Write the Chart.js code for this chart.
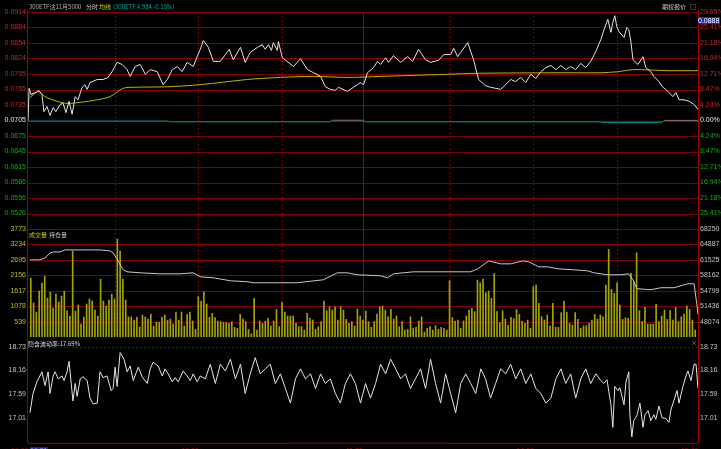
<!DOCTYPE html>
<html lang="zh">
<head>
<meta charset="UTF-8">
<meta name="viewport" content="width=device-width, initial-scale=1.0">
<title>300ETF沽11月5000 分时</title>
<script src="https://cdn.jsdelivr.net/npm/chart.js"></script>
<style>
  html, body { margin: 0; padding: 0; background: #000; overflow: hidden; }
  #board { position: relative; width: 721px; height: 449px; background: #000;
           font-family: "Noto Sans CJK SC", "Liberation Sans", sans-serif; }
  #board canvas { position: absolute; left: 0; top: 0; }
  .t { position: absolute; font-size: 6px; line-height: 7px; white-space: nowrap; z-index: 5; }
  .n { font-family: "Liberation Sans", sans-serif; font-size: 7px; }
</style>
</head>
<body>
<div id="board">
  <canvas id="priceChart" width="721" height="449"></canvas>
  <canvas id="volChart" width="721" height="449"></canvas>
  <canvas id="ivChart" width="721" height="449"></canvas>

  <span class="t" style="left:29px;top:3px;color:#b4b4b4">300ETF沽11月5000</span>
  <span class="t" style="left:86px;top:3px;color:#d0d0d0">分时</span>
  <span class="t" style="left:99px;top:3px;color:#d8d800">均线</span>
  <span class="t" style="left:113px;top:3px;color:#00a8a8">(300ETF 4.984 -0.10%)</span>
  <span class="t" style="left:662px;top:3px;color:#c0c0c0">期权报价</span>
  <span class="t" style="left:690px;top:3px;color:#c0c0c0">□</span>
  <span class="t n" style="left:698px;top:17px;width:22px;background:#2a2aa8;color:#fff">0.0888</span>

  <span class="t" style="left:29px;top:231px;color:#d0d000">成交量</span>
  <span class="t" style="left:49px;top:231px;color:#c8c8c8">持仓量</span>

  <span class="t" style="left:28px;top:340px;color:#d8d8d8">隐含波动率:17.69%</span>
  <span class="t" style="left:691px;top:339px;color:#a0a0a0">×</span>
  <div id="timeLabels"></div>
</div>

<script>
    // ---- data (x = minutes since 09:30, trading minutes) ----
    const basePrice = 0.0705;
    const pctStep = 29.65 / 7;

    const priceLabels = ['0.0914','0.0884','0.0854','0.0824','0.0795','0.0765','0.0735',
                         '0.0705','0.0675','0.0645','0.0615','0.0586','0.0556','0.0526'];
    const pctLabels = ['29.65%','25.41%','21.18%','16.94%','12.71%','8.47%','4.24%',
                       '0.00%','4.24%','8.47%','12.71%','16.94%','21.18%','25.41%'];
    const volLabels = ['3773','3234','2695','2156','1617','1078','539'];
    const oiLabels = ['68250','64887','61525','58162','54799','51436','48074'];
    const ivLabels = ['18.73','18.16','17.59','17.01'];
    const timeLabels = ['09:30','10:30','11:30','14:00','15:00'];
    const timeLabelMinutes = [0, 61, 120, 181, 240];
    const gridMinutes = [31, 61, 91, 120, 151, 181, 211];

    const pricePoints = [[0,0.0705],[0.4,0.0767],[1.1,0.0755],[1.8,0.0757],[2.9,0.0759],[3.9,0.0763],
        [5.0,0.0755],[5.7,0.0722],[6.8,0.0732],[7.9,0.0715],[9.0,0.0730],[10.0,0.0722],[11.5,0.0736],
        [12.6,0.0738],[13.6,0.0720],[14.7,0.0742],[15.8,0.0717],[16.9,0.0751],[17.9,0.0745],[19.4,0.0769],
        [20.4,0.0774],[21.2,0.0765],[22.2,0.0778],[24.8,0.0784],[26.9,0.0784],[28.7,0.0788],[30.1,0.0799],
        [31.9,0.0817],[33.7,0.0813],[35.5,0.0803],[36.6,0.0790],[38.4,0.0809],[40.2,0.0813],[42.0,0.0794],
        [43.8,0.0803],[46.3,0.0799],[48.4,0.0774],[49.9,0.0784],[51.7,0.0803],[53.5,0.0809],[55.2,0.0799],
        [57.0,0.0817],[59.2,0.0809],[60.6,0.0828],[61.7,0.0842],[62.8,0.0859],[64.6,0.0846],[66.4,0.0819],
        [68.9,0.0819],[70.7,0.0832],[72.1,0.0842],[73.5,0.0822],[76.1,0.0846],[77.8,0.0817],[79.6,0.0836],
        [82.2,0.0846],[83.9,0.0851],[85.0,0.0842],[86.1,0.0851],[87.2,0.0840],[87.9,0.0855],[89.3,0.0840],
        [89.7,0.0857],[91.1,0.0826],[95.1,0.0809],[97.6,0.0824],[100.1,0.0803],[102.3,0.0797],[104.8,0.0790],
        [106.5,0.0770],[108.3,0.0765],[110.1,0.0763],[111.2,0.0769],[114.4,0.0761],[116.6,0.0769],
        [119.1,0.0778],[120.2,0.0774],[121.6,0.0797],[123.8,0.0807],[125.2,0.0819],[126.3,0.0813],
        [128.1,0.0826],[129.1,0.0817],[130.9,0.0830],[133.5,0.0817],[136.0,0.0828],[137.8,0.0819],
        [139.9,0.0842],[142.4,0.0822],[144.2,0.0817],[147.1,0.0821],[148.9,0.0832],[151.4,0.0832],
        [152.5,0.0844],[153.9,0.0828],[157.5,0.0855],[159.6,0.0822],[161.4,0.0784],[163.9,0.0772],
        [165.7,0.0769],[169.3,0.0765],[171.1,0.0774],[172.9,0.0784],[174.7,0.0780],[176.5,0.0788],
        [178.3,0.0778],[180.1,0.0794],[181.9,0.0786],[183.7,0.0799],[185.5,0.0807],[187.3,0.0811],
        [189.1,0.0803],[190.9,0.0811],[192.6,0.0803],[194.4,0.0809],[196.2,0.0803],[198.0,0.0815],
        [199.8,0.0807],[201.6,0.0819],[203.4,0.0838],[205.2,0.0861],[206.6,0.0884],[207.7,0.0900],
        [208.8,0.0875],[209.5,0.0894],[210.2,0.0907],[210.9,0.0886],[211.7,0.0876],[213.5,0.0865],
        [214.5,0.0884],[215.2,0.0880],[216.0,0.0855],[216.7,0.0822],[218.5,0.0813],[220.3,0.0828],
        [221.3,0.0807],[223.1,0.0799],[224.2,0.0790],[226.0,0.0780],[227.4,0.0769],[228.5,0.0765],
        [231.0,0.0751],[232.1,0.0759],[233.2,0.0745],[235.0,0.0745],[236.8,0.0742],[238.6,0.0736],[240,0.0726]];

    const avgPoints = [[0.7,0.0749],[3.6,0.0761],[6.1,0.0751],[10.4,0.0742],[14.0,0.0738],[18.7,0.0740],
        [24.8,0.0745],[29.4,0.0751],[34.1,0.0767],[37.7,0.0769],[49.9,0.0770],[61.7,0.0774],[78.6,0.0784],
        [90.4,0.0788],[102.2,0.0790],[114.4,0.0788],[126.3,0.0790],[138.1,0.0792],[150.3,0.0794],
        [161.1,0.0796],[190.9,0.0797],[205.2,0.0797],[211.3,0.0799],[217.0,0.0803],[229.2,0.0801],[240,0.0801]];

    const etfPoints = [[0,0.0704],[50,0.0704],[51,0.07025],[108,0.07025],[109,0.07055],[120,0.07055],
        [121,0.07025],[205,0.07025],[206,0.0701],[227,0.0701],[228,0.07052],[240,0.07052]];

    const volumes = [2060,1190,870,1600,1880,2130,1360,1570,1010,1500,1220,1430,1600,910,730,3000,910,1120,
        450,700,1150,1330,1260,940,730,2020,1260,1080,1290,1500,1330,3420,3000,2020,1290,700,700,590,700,350,
        770,700,630,800,380,520,520,700,770,590,630,450,870,590,870,
        384,779,872,558,267,1407,1256,1582,1151,686,826,675,558,535,512,500,477,535,337,302,
        791,628,535,267,105,1349,244,558,477,558,651,384,558,965,360,1210,872,733,733,733,
        477,360,360,244,826,651,593,267,360,535,1256,919,1058,942,1058,593,1058,942,616,477,
        535,384,977,733,593,907,535,337,535,802,1058,1082,942,709,965,628,733,360,535,244,
        267,709,302,337,558,709,174,302,360,244,395,267,337,302,244,1965,675,558,593,302,
        558,733,942,1000,884,1989,1896,2024,1547,1605,1349,2221,884,500,919,628,419,686,640,954,
        791,558,477,593,302,1756,1814,1175,709,593,768,384,1175,337,337,849,1256,861,477,419,
        849,616,302,395,395,477,593,791,628,768,709,1814,3059,1663,1524,1896,
        1116,616,675,651,2221,1931,2942,919,535,1035,454,454,454,1140,535,733,942,616,919,593,
        1035,535,709,802,1093,965,593,244];

    const oiPoints = [[0.7,61522],[4.3,61522],[6.1,61956],[7.9,63040],[9.0,63257],[11.5,63257],[13.3,63691],
        [22.2,63691],[25.8,63691],[29.4,63474],[30.5,63040],[31.9,61739],[33.0,60437],[34.1,59353],
        [35.5,58919],[40.2,58702],[47.4,58485],[54.5,58485],[59.2,58702],[61.7,57834],[66.4,57618],
        [72.5,56967],[78.6,56750],[80.7,56533],[90.4,56533],[96.5,56533],[105.8,57184],[110.8,58702],
        [114.4,58702],[118.0,58268],[126.3,58051],[128.8,57618],[130.9,58485],[138.1,58919],[150.3,58919],
        [158.6,58919],[161.1,59570],[165.0,61305],[169.3,60654],[172.9,60654],[177.2,61305],[179.4,61088],
        [183.0,60004],[186.2,60004],[189.8,59570],[195.5,59353],[200.5,59136],[202.7,58702],[207.7,58268],
        [212.4,58268],[215.2,58485],[216.7,57184],[218.1,55232],[223.1,55015],[226.7,55449],[231.4,55449],
        [236.4,56316],[238.6,56316],[239.6,51761],[240,49592]];

    const ivPoints = [[0.7,17.15],[1.8,17.61],[3.2,17.89],[5.0,18.13],[6.1,17.80],[7.2,18.13],[7.9,17.61],
        [9.0,18.03],[9.7,18.13],[10.8,17.96],[12.2,18.03],[12.9,17.92],[14.0,18.13],[14.7,18.38],[16.1,17.43],
        [16.9,17.85],[17.6,17.54],[18.7,17.96],[19.7,18.01],[21.2,17.92],[22.2,17.50],[23.3,17.36],[24.8,17.38],
        [25.8,18.13],[26.9,17.99],[28.3,18.03],[29.8,17.68],[30.5,17.73],[31.2,18.24],[31.9,17.78],[33.0,18.59],
        [34.4,18.43],[35.5,18.13],[36.6,18.27],[37.7,17.92],[39.5,18.24],[40.9,18.01],[42.7,17.85],[43.8,18.20],
        [44.8,18.36],[46.6,18.27],[48.1,18.03],[49.1,18.20],[50.2,18.08],[51.7,17.89],[52.7,17.99],[53.8,17.89],
        [55.6,18.15],[57.0,18.03],[58.1,17.92],[59.2,18.08],[60.6,17.89],[61.7,18.03],
        [63.5,17.96],[65.3,18.31],[67.1,17.85],[68.9,18.31],[70.7,18.15],[72.5,18.43],[74.3,17.96],[76.1,18.31],
        [77.8,17.61],[79.6,18.08],[81.4,18.47],[83.2,18.08],[85.0,18.20],[86.8,18.31],[88.6,17.85],[90.4,18.08],
        [92.2,17.73],[94.0,17.38],[95.8,17.96],[97.6,18.20],[99.4,17.96],[101.2,18.08],[103.0,17.73],[104.8,18.08],
        [106.5,17.85],[108.3,17.96],[110.1,17.61],[111.9,17.38],[113.7,17.85],[115.5,18.08],[117.3,17.85],
        [119.1,17.38],[120.9,17.85],[122.7,17.50],[124.5,17.85],[126.3,18.31],[128.1,18.08],[129.9,18.43],
        [131.7,18.20],[133.5,17.96],[135.2,18.08],[137.0,17.73],[138.8,17.96],[140.6,18.20],[142.4,17.73],
        [144.2,18.43],[146.0,17.85],[147.8,17.38],[149.6,18.08],[151.4,17.61],[153.2,17.15],[155.0,17.85],
        [156.8,18.08],[158.6,17.85],[160.4,17.61],[162.2,18.20],[163.9,17.96],[165.7,17.50],[167.5,17.85],
        [169.3,18.20],[171.1,18.08],[172.9,18.31],[174.7,17.96],[176.5,18.20],[178.3,17.85],[180.1,18.08],
        [181.9,17.73],[183.7,17.61],[185.5,17.38],[187.3,17.50],[189.1,17.96],[190.9,18.20],[192.6,17.85],
        [194.4,18.08],[196.2,17.50],[198.0,17.96],[199.8,18.20],[201.6,17.85],[203.4,18.08],
        [205.2,17.92],[206.3,17.85],[207.4,17.94],[208.8,17.34],[209.5,16.80],[210.2,17.78],[211.3,17.68],
        [212.0,17.75],[213.5,17.34],[214.2,17.89],[215.2,18.13],[215.6,17.10],[216.3,16.57],[217.0,16.96],
        [218.1,17.08],[219.2,17.38],[220.3,16.80],[221.0,17.10],[222.1,17.20],[223.1,16.96],[224.2,17.10],
        [224.9,16.99],[226.0,17.31],[227.1,17.03],[228.5,17.01],[229.6,16.92],[230.3,17.22],[231.4,17.45],
        [232.5,17.68],[233.2,17.38],[234.6,17.78],[235.7,18.03],[236.4,18.15],[237.5,17.92],[238.6,18.31],
        [239.3,18.31],[240,17.73]];

    // ---- derived scale values ----
    const pctKs = [7,6,5,4,3,2,1,0,-1,-2,-3,-4,-5,-6];
    const priceTicks = pctKs.map(k => basePrice * (1 + k * pctStep / 100));
    const priceMax = basePrice * (1 + 7 * pctStep / 100);
    const priceMin = basePrice * (1 - 7 * pctStep / 100);
    const volTicks = volLabels.map(Number);
    const oiTicks = oiLabels.map(Number);
    const oiStep = (oiTicks[0] - oiTicks[6]) / 6;
    const ivTicks = ivLabels.map(Number);
    const ivPx = (ivTicks[0] - ivTicks[3]) / 74;   // value per pixel between 18.73 and 17.01
    const ivMin = ivTicks[3] - 25 * ivPx;
    const ivMax = ivTicks[0] + 9 * ivPx;

    const RED = '#7c0000';
    const BORDER = '#a00000';
    const FONT = { family: 'Liberation Sans', size: 7 };

    const toXY = pts => pts.map(p => ({ x: p[0], y: p[1] }));

    // grid, separators and borders drawn from the chart's own scales
    const panelGrid = {
        id: 'panelGrid',
        beforeDatasetsDraw(chart, args, opts) {
            const { ctx, chartArea: a, scales } = chart;
            const line = (x1, y1, x2, y2) => { ctx.beginPath(); ctx.moveTo(x1, y1); ctx.lineTo(x2, y2); ctx.stroke(); };
            ctx.save();
            ctx.lineWidth = 1;
            (opts.hLines || []).forEach(h => {
                const py = Math.round(scales.y.getPixelForValue(h.v)) + 0.5;
                ctx.strokeStyle = h.c || RED;
                ctx.setLineDash(h.dash || []);
                line(a.left, py, a.right, py);
            });
            if (opts.vLines) {
                gridMinutes.forEach(m => {
                    const px = Math.round(scales.x.getPixelForValue(m)) + 0.5;
                    if (m === 120) { ctx.setLineDash([]); ctx.strokeStyle = '#a80000'; }
                    else { ctx.setLineDash([2, 2]); ctx.strokeStyle = RED; }
                    line(px, a.top, px, a.bottom);
                });
            }
            ctx.setLineDash([]);
            ctx.strokeStyle = BORDER;
            line(a.left - 0.5, a.top - (opts.topExtra || 0), a.left - 0.5, a.bottom);
            line(a.right + 0.5, a.top - (opts.topExtra || 0), a.right + 0.5, a.bottom);
            if (opts.bottomLine) line(a.left, a.bottom + 0.5, a.right, a.bottom + 0.5);
            ctx.restore();
        }
    };

    function baseOptions(padTop, padBottom) {
        return {
            responsive: false, animation: false, devicePixelRatio: 1, events: [],
            layout: { padding: { top: padTop, bottom: padBottom, left: 0, right: 0 } },
            plugins: { legend: { display: false }, tooltip: { enabled: false } }
        };
    }

    function sideAxis(position, min, max, values, labels, color) {
        return {
            position, min, max,
            afterBuildTicks: axis => { axis.ticks = values.map(v => ({ value: v })); },
            afterFit: axis => { axis.width = position === 'left' ? 28 : 23; },
            grid: { display: false, drawTicks: false },
            border: { display: false },
            ticks: {
                autoSkip: false, padding: 2, font: FONT,
                color: color,
                callback: (v, i) => labels[i]
            }
        };
    }

    const xAxis = { type: 'linear', min: 0, max: 240, display: false, offset: false };

    const priceColor = c => {
        const i = c.index;
        if (pctKs[i] > 0) return '#c82828';
        if (pctKs[i] < 0) return '#10b010';
        return '#e8e8e8';
    };

    // ---- price panel ----
    const priceOpts = baseOptions(12, 449 - 229);
    priceOpts.scales = {
        x: xAxis,
        y: sideAxis('left', priceMin, priceMax, priceTicks, priceLabels, priceColor),
        y2: sideAxis('right', priceMin, priceMax, priceTicks, pctLabels, priceColor)
    };
    priceOpts.plugins.panelGrid = {
        topExtra: 2,
        vLines: true,
        hLines: priceTicks.concat([priceMin]).map((v, i) => ({ v, c: pctKs[i] === 0 ? '#a00000' : RED }))
    };
    new Chart(document.getElementById('priceChart'), {
        type: 'line',
        data: {
            datasets: [
                { data: toXY(pricePoints), borderColor: '#e4e4e4', borderWidth: 1, pointRadius: 0, tension: 0, order: 0 },
                { data: toXY(avgPoints), borderColor: '#b8b800', borderWidth: 1, pointRadius: 0, tension: 0.3, order: 1 },
                { data: toXY(etfPoints), borderWidth: 1, pointRadius: 0, tension: 0, order: 2,
                  segment: { borderColor: c => (c.p0.parsed.y + c.p1.parsed.y) / 2 >= basePrice ? '#8c7070' : '#008a8a' } }
            ]
        },
        options: priceOpts,
        plugins: [panelGrid]
    });

    // ---- volume / open interest panel ----
    const volOpts = baseOptions(229, 449 - 337);
    volOpts.scales = {
        x: xAxis,
        y: sideAxis('left', 0, 3773, volTicks, volLabels, '#c0c000'),
        y2: sideAxis('right', oiTicks[6] - oiStep, oiTicks[0], oiTicks, oiLabels, '#c4c4c4')
    };
    volOpts.plugins.panelGrid = {
        vLines: true,
        hLines: volTicks.map(v => ({ v }))
    };
    new Chart(document.getElementById('volChart'), {
        type: 'bar',
        data: {
            datasets: [
                { type: 'bar', data: volumes.map((v, i) => ({ x: i + 1, y: v })), backgroundColor: '#a4a400',
                  barThickness: 1, categoryPercentage: 1, barPercentage: 1, yAxisID: 'y', order: 1 },
                { type: 'line', data: toXY(oiPoints), borderColor: '#c8c8c8', borderWidth: 1, pointRadius: 0,
                  tension: 0, yAxisID: 'y2', order: 0 }
            ]
        },
        options: volOpts,
        plugins: [panelGrid]
    });

    // ---- implied volatility panel ----
    const ivOpts = baseOptions(338, 449 - 446);
    ivOpts.scales = {
        x: xAxis,
        y: sideAxis('left', ivMin, ivMax, ivTicks, ivLabels, '#c4c4c4'),
        y2: sideAxis('right', ivMin, ivMax, ivTicks, ivLabels, '#c4c4c4')
    };
    ivOpts.plugins.panelGrid = {
        bottomLine: true,
        hLines: [{ v: ivTicks[0], dash: [2, 2] }]
    };
    const ivChart = new Chart(document.getElementById('ivChart'), {
        type: 'line',
        data: {
            datasets: [
                { data: toXY(ivPoints), borderColor: '#e4e4e4', borderWidth: 1, pointRadius: 0, tension: 0 }
            ]
        },
        options: ivOpts,
        plugins: [panelGrid]
    });

    // ---- time labels under the bottom axis ----
    const holder = document.getElementById('timeLabels');
    timeLabels.forEach((txt, i) => {
        const px = ivChart.scales.x.getPixelForValue(timeLabelMinutes[i]);
        const s = document.createElement('span');
        s.className = 't n';
        s.textContent = txt;
        s.style.color = '#b00000';
        s.style.top = '447px';
        s.style.left = (px - 17) + 'px';
        holder.appendChild(s);
    });
    const cursor = document.createElement('span');
    cursor.className = 't n';
    cursor.textContent = '09:31';
    cursor.style.cssText += 'left:30px;top:447px;background:#2020a0;color:#9090ff;';
    holder.appendChild(cursor);
</script>
</body>
</html>
